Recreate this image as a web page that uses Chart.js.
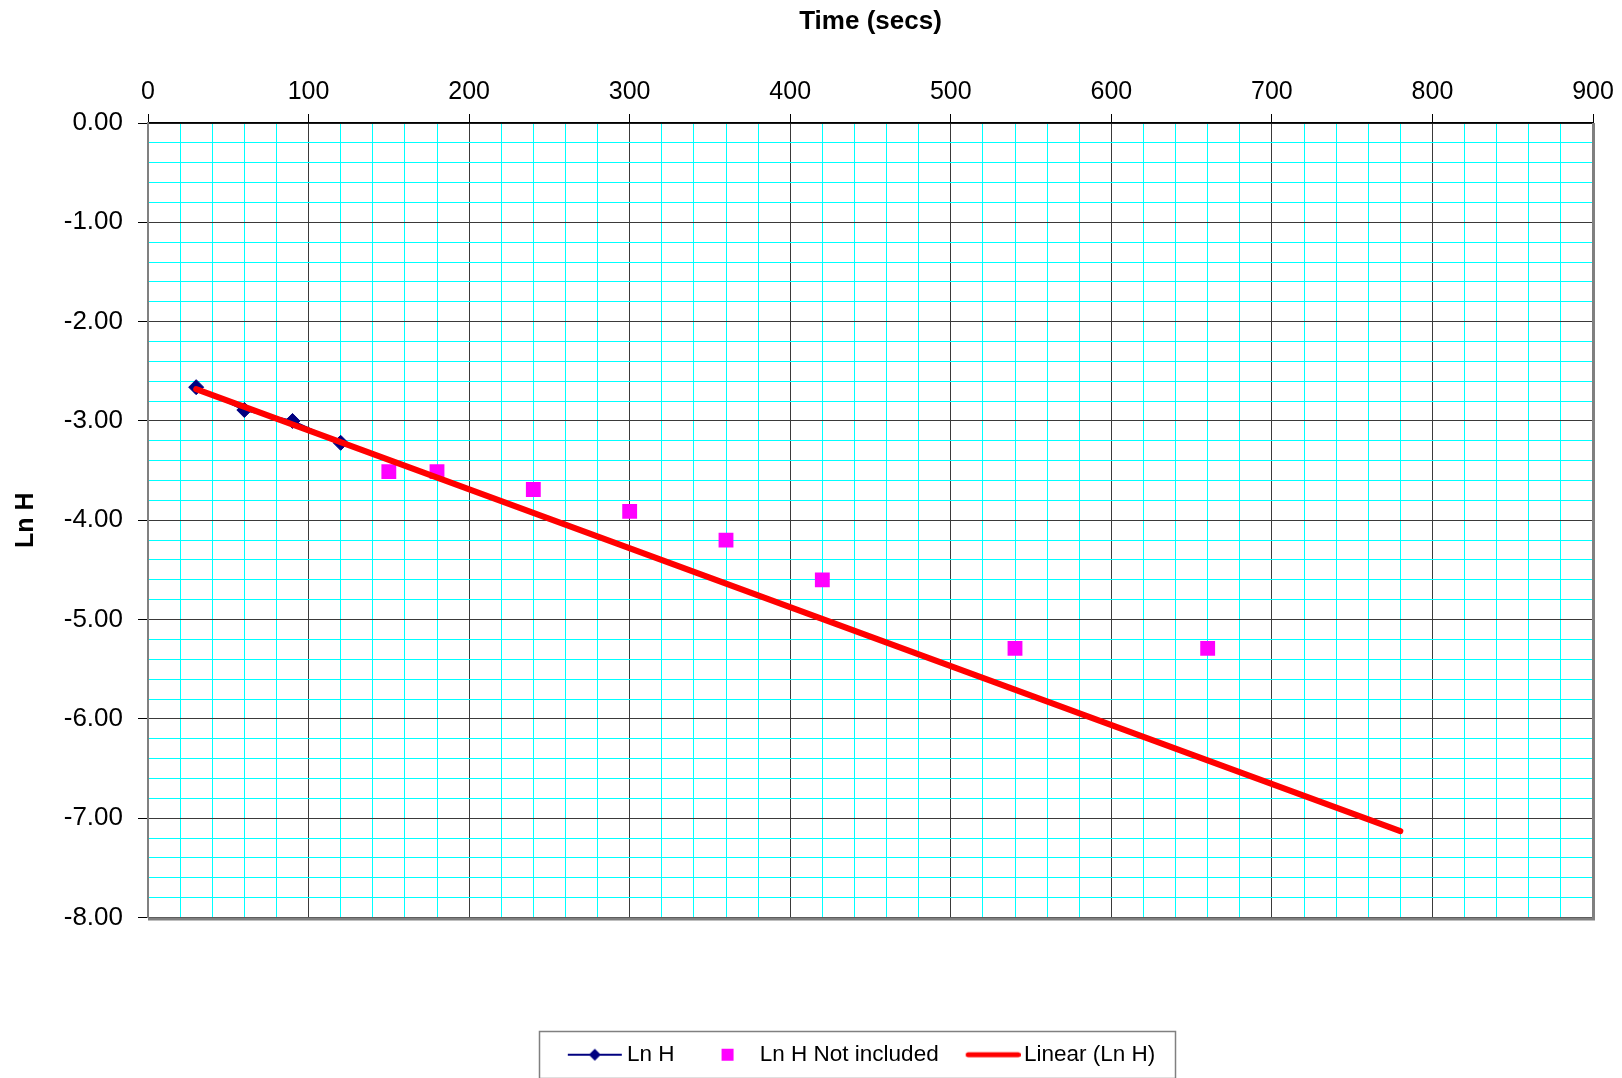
<!DOCTYPE html>
<html>

<head>
  <meta charset="utf-8">
  <title>Ln H vs Time</title>
  <script src="https://cdn.jsdelivr.net/npm/chart.js"></script>
  <style>
    html, body { margin: 0; padding: 0; background: #fff; }
    #wrap { width: 1622px; height: 1078px; }
  </style>
</head>

<body>
  <div id="wrap"><canvas id="lnChart"></canvas></div>

  <script>
    // points used for the fit
    const timeIncl = [30, 60, 90, 120];
    const lnHIncl = [-2.66, -2.89, -3.00, -3.22];
    // points left out of the fit
    const timeExcl = [150, 180, 240, 300, 360, 420, 540, 660];
    const lnHExcl = [-3.51, -3.51, -3.69, -3.91, -4.20, -4.60, -5.29, -5.29];
    // trend line ends
    const trendTime = [30, 780];
    const trendLnH = [-2.68, -7.13];

    // labelled (major) ticks
    const xLabels = [0, 100, 200, 300, 400, 500, 600, 700, 800, 900];
    const yLabels = [0, -1, -2, -3, -4, -5, -6, -7, -8];

    const FONT = "'Liberation Sans', Arial, sans-serif";

    function toPts(xs, ys) {
      return xs.map((x, i) => ({ x: x, y: ys[i] }));
    }
    function isMajorX(v) { return xLabels.includes(Math.round(v)) && Math.abs(v - Math.round(v)) < 1e-6; }
    function isMajorY(v) { return yLabels.some(m => Math.abs(m - v) < 1e-6); }

    // legend icons (line + marker like the spreadsheet legend)
    function makeIcon(kind) {
      const c = document.createElement('canvas');
      c.width = 76; c.height = 24;
      const g = c.getContext('2d');
      if (kind === 'lnh') {
        g.strokeStyle = '#000080'; g.lineWidth = 2;
        g.beginPath(); g.moveTo(20, 12); g.lineTo(74, 12); g.stroke();
        g.fillStyle = '#000080';
        g.beginPath(); g.moveTo(47, 6); g.lineTo(53, 12); g.lineTo(47, 18); g.lineTo(41, 12); g.closePath(); g.fill();
      } else if (kind === 'excl') {
        g.fillStyle = '#FF00FF';
        g.fillRect(41, 6, 12, 12);
      } else {
        g.strokeStyle = '#FF0000'; g.lineWidth = 5; g.lineCap = 'round';
        g.beginPath(); g.moveTo(23.5, 12); g.lineTo(73.5, 12); g.stroke();
      }
      return c;
    }
    const icons = { lnh: makeIcon('lnh'), excl: makeIcon('excl'), lin: makeIcon('lin') };

    const LEG_SHIFT = -15;

    // moves legend row and draws its frame, plus right/bottom plot edge
    const framePlugin = {
      id: 'frame',
      afterLayout(chart) {
        chart.legend.left += LEG_SHIFT;
        chart.legend.right += LEG_SHIFT;
      },
      beforeDatasetsDraw(chart) {
        const { ctx, chartArea: a } = chart;
        ctx.save();
        ctx.strokeStyle = '#808080';
        ctx.lineWidth = 3;
        ctx.beginPath();
        ctx.moveTo(a.right + 0.5, a.top);
        ctx.lineTo(a.right + 0.5, a.bottom + 1.5);
        ctx.lineTo(a.left, a.bottom + 1.5);
        ctx.stroke();
        ctx.restore();
      },
      afterDraw(chart) {
        const lg = chart.legend;
        const pad = lg.options.labels.padding;
        const fs = lg.options.labels.font.size;
        const x0 = (lg.left + pad + lg.right - lg.lineWidths[0]) / 2;
        const rowEnd = x0 + lg.lineWidths[0] - pad;
        const cy = lg.top + pad + fs / 2;
        const ctx = chart.ctx;
        ctx.save();
        ctx.strokeStyle = '#808080';
        ctx.lineWidth = 1.5;
        ctx.strokeRect(Math.round(x0 - 17) + 0.5, Math.round(cy - 24) + 0.5, Math.round(rowEnd - x0 + 37), 47);
        ctx.restore();
      }
    };

    const ctx = document.getElementById('lnChart').getContext('2d');
    new Chart(ctx, {
      type: 'scatter',
      data: {
        datasets: [
          {
            label: 'Ln H',
            data: toPts(timeIncl, lnHIncl),
            showLine: true,
            borderColor: '#000080',
            backgroundColor: '#000080',
            borderWidth: 2,
            pointStyle: 'rectRot',
            pointRadius: 7.5,
            pointBorderWidth: 1,
            order: 3
          },
          {
            label: 'Ln H Not included',
            data: toPts(timeExcl, lnHExcl),
            showLine: false,
            borderColor: '#FF00FF',
            backgroundColor: '#FF00FF',
            pointStyle: 'rect',
            pointRadius: 10.5,
            pointBorderWidth: 0,
            order: 2
          },
          {
            label: 'Linear (Ln H)',
            data: toPts(trendTime, trendLnH),
            showLine: true,
            borderColor: '#FF0000',
            borderWidth: 6,
            borderCapStyle: 'round',
            pointRadius: 0,
            order: 1
          }
        ]
      },
      options: {
        responsive: true,
        maintainAspectRatio: false,
        animation: false,
        layout: { padding: { left: 0, right: 29, top: 0, bottom: 2 } },
        plugins: {
          tooltip: { enabled: false },
          legend: {
            position: 'bottom',
            fullSize: false,
            labels: {
              usePointStyle: true,
              pointStyleWidth: 60,
              padding: 14,
              color: '#000',
              font: { family: FONT, size: 22.5 },
              generateLabels: () => [
                { text: 'Ln H', pointStyle: icons.lnh, datasetIndex: 0, lineWidth: 0, fontColor: '#000' },
                { text: 'Ln H Not included', pointStyle: icons.excl, datasetIndex: 1, lineWidth: 0, fontColor: '#000' },
                { text: 'Linear (Ln H)', pointStyle: icons.lin, datasetIndex: 2, lineWidth: 0, fontColor: '#000' }
              ]
            }
          }
        },
        scales: {
          x: {
            type: 'linear',
            position: 'top',
            min: 0,
            max: 900,
            afterFit: s => { s.height = 123; },
            ticks: {
              stepSize: 20,
              autoSkip: false,
              maxRotation: 0,
              padding: 7,
              color: '#000',
              font: { family: FONT, size: 25 },
              callback: v => isMajorX(v) ? String(v) : ''
            },
            grid: {
              lineWidth: 1,
              tickLength: 9,
              color: c => (c.tick && isMajorX(c.tick.value)) ? '#3a3a3a' : '#00FFFF',
              tickColor: c => (c.tick && isMajorX(c.tick.value)) ? '#000' : 'rgba(0,0,0,0)'
            },
            border: { color: '#000', width: 1.5 },
            title: {
              display: true,
              text: 'Time (secs)',
              color: '#000',
              font: { family: FONT, size: 26, weight: 'bold' },
              padding: { top: 6, bottom: 0 }
            }
          },
          y: {
            type: 'linear',
            position: 'left',
            min: -8,
            max: 0,
            afterFit: s => { s.width = 148; },
            ticks: {
              stepSize: 0.2,
              autoSkip: false,
              padding: 15,
              color: '#000',
              font: { family: FONT, size: 26 },
              callback: v => isMajorY(v) ? v.toFixed(2) : ''
            },
            grid: {
              lineWidth: 1,
              tickLength: 10,
              color: c => (c.tick && isMajorY(c.tick.value)) ? '#3a3a3a' : '#00FFFF',
              tickColor: c => (c.tick && isMajorY(c.tick.value)) ? '#000' : 'rgba(0,0,0,0)'
            },
            border: { color: '#808080', width: 2 },
            title: {
              display: true,
              text: 'Ln H',
              color: '#000',
              font: { family: FONT, size: 25, weight: 'bold' },
              padding: { top: 11, bottom: 0 }
            }
          },
          // empty band between plot and legend
          gap: {
            type: 'linear',
            position: 'bottom',
            display: true,
            afterFit: s => { s.height = 112; },
            ticks: { display: false },
            grid: { display: false },
            border: { display: false }
          }
        }
      },
      plugins: [framePlugin]
    });
  </script>
</body>

</html>
